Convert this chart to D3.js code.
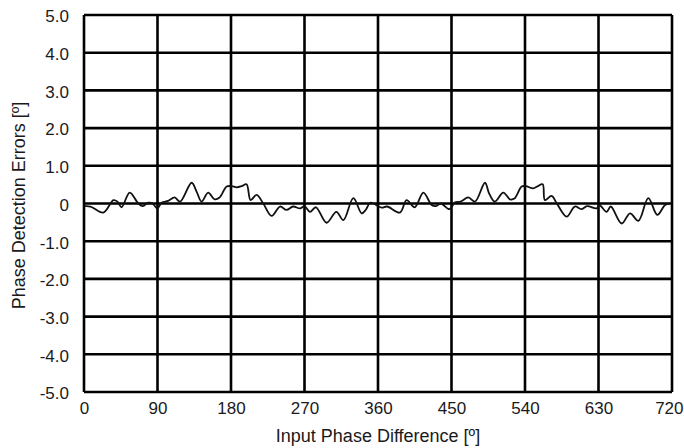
<!DOCTYPE html>
<html><head><meta charset="utf-8">
<script src="https://cdn.jsdelivr.net/npm/d3@7"></script>
<style>body{margin:0;background:#fff}svg{display:block}text{font-family:"Liberation Sans",Arial,sans-serif;fill:#1a1a1a}</style>
</head><body><svg id="c" width="684" height="448"></svg>
<script>
const phaseDeg = [0.8, 8, 23.7, 36, 41, 46, 56, 66.5, 72, 78.8, 84, 89.8, 95, 103, 111, 117.6, 131.8, 138, 144, 152, 160, 166, 174.7, 180.8, 187, 193, 199, 204, 211.4, 219.5, 229.8, 240, 248, 256, 264.5, 270, 276.7, 284, 297, 309, 317.6, 329.8, 340, 345, 350.6,
  364.5, 371, 386.9, 395, 405, 415.5, 425.7, 431, 437, 447.4, 454.3, 461, 470.6, 478.8, 491, 496, 503, 513.4, 521.6, 527, 535.9, 541, 550, 555, 561.6, 564.4, 572.6, 579, 591, 601, 609, 616, 627.8, 631, 640, 645, 658.4, 668.6, 678.8, 691, 702, 711.4, 717];
const errorDeg = [-0.07, -0.08, -0.24, 0.09, 0.05, -0.1, 0.29, 0.0, -0.07, 0.02, 0.0, -0.13, 0.02, 0.07, 0.16, 0.05, 0.55, 0.31, 0.05, 0.29, 0.11, 0.16, 0.45, 0.46, 0.43, 0.46, 0.51, 0.09, 0.23, 0.0, -0.33, -0.08, -0.17, -0.08, -0.13, -0.07, -0.22, -0.1, -0.51, -0.22, -0.44, 0.14, -0.26, -0.17, 0.02,
  -0.11, -0.08, -0.24, 0.09, -0.1, 0.29, -0.04, -0.07, 0.0, -0.15, 0.03, 0.05, 0.16, 0.05, 0.55, 0.27, 0.05, 0.29, 0.11, 0.13, 0.45, 0.46, 0.4, 0.45, 0.51, 0.09, 0.2, 0.0, -0.35, -0.08, -0.15, -0.07, -0.13, -0.04, -0.22, -0.08, -0.53, -0.26, -0.46, 0.14, -0.3, -0.04, 0.0];
const xTicks = [0, 90, 180, 270, 360, 450, 540, 630, 720];
const yTicks = [5, 4, 3, 2, 1, 0, -1, -2, -3, -4, -5];
const yTickLabels = ["5.0", "4.0", "3.0", "2.0", "1.0", "0", "-1.0", "-2.0", "-3.0", "-4.0", "-5.0"];

const svg = d3.select("#c");
const W = 684, L = 84, R = 672, T = 15, B = 392;
const x = d3.scaleLinear().domain([0, 720]).range([L, R]);
const y = d3.scaleLinear().domain([-5, 5]).range([B, T]);

// grid
svg.append("g").selectAll("line").data(yTicks).join("line")
  .attr("x1", L).attr("x2", R).attr("y1", d => y(d)).attr("y2", d => y(d))
  .attr("stroke", "#000").attr("stroke-width", 2.6);
svg.append("g").selectAll("line").data(xTicks).join("line")
  .attr("y1", T).attr("y2", B).attr("x1", d => x(d)).attr("x2", d => x(d))
  .attr("stroke", "#000").attr("stroke-width", 2.6);

// axes labels
const ya = svg.append("g").attr("transform", `translate(${L},0)`)
  .call(d3.axisLeft(y).tickValues(yTicks).tickFormat((d, i) => yTickLabels[i]).tickSize(0).tickPadding(15));
ya.select(".domain").remove();
ya.selectAll("text").attr("font-size", 17).attr("font-family", "Liberation Sans, Arial, sans-serif").attr("fill", "#1a1a1a").attr("dy", "0.4em");
const xa = svg.append("g").attr("transform", `translate(0,${B})`)
  .call(d3.axisBottom(x).tickValues(xTicks).tickFormat(d3.format("d")).tickSize(0).tickPadding(10));
xa.select(".domain").remove();
xa.selectAll("text").attr("font-size", 17).attr("font-family", "Liberation Sans, Arial, sans-serif").attr("fill", "#1a1a1a");
// keep the last label inside the page edge
xa.selectAll(".tick").filter(d => d === 720).select("text")
  .attr("text-anchor", "end").attr("x", W - 1 - x(720));

// data line
const pts = phaseDeg.map((p, i) => [p, errorDeg[i]]);
svg.append("path").datum(pts)
  .attr("d", d3.line().x(d => x(d[0])).y(d => y(d[1])).curve(d3.curveCatmullRom))
  .attr("fill", "none").attr("stroke", "#111").attr("stroke-width", 1.8);

svg.append("text").attr("x", (L + R) / 2).attr("y", 442).attr("text-anchor", "middle")
  .attr("font-size", 18).text("Input Phase Difference [º]");
svg.append("text").attr("transform", `translate(25,${(T + B) / 2 + 2}) rotate(-90)`).attr("text-anchor", "middle")
  .attr("font-size", 18).text("Phase Detection Errors [º]");
</script></body></html>
